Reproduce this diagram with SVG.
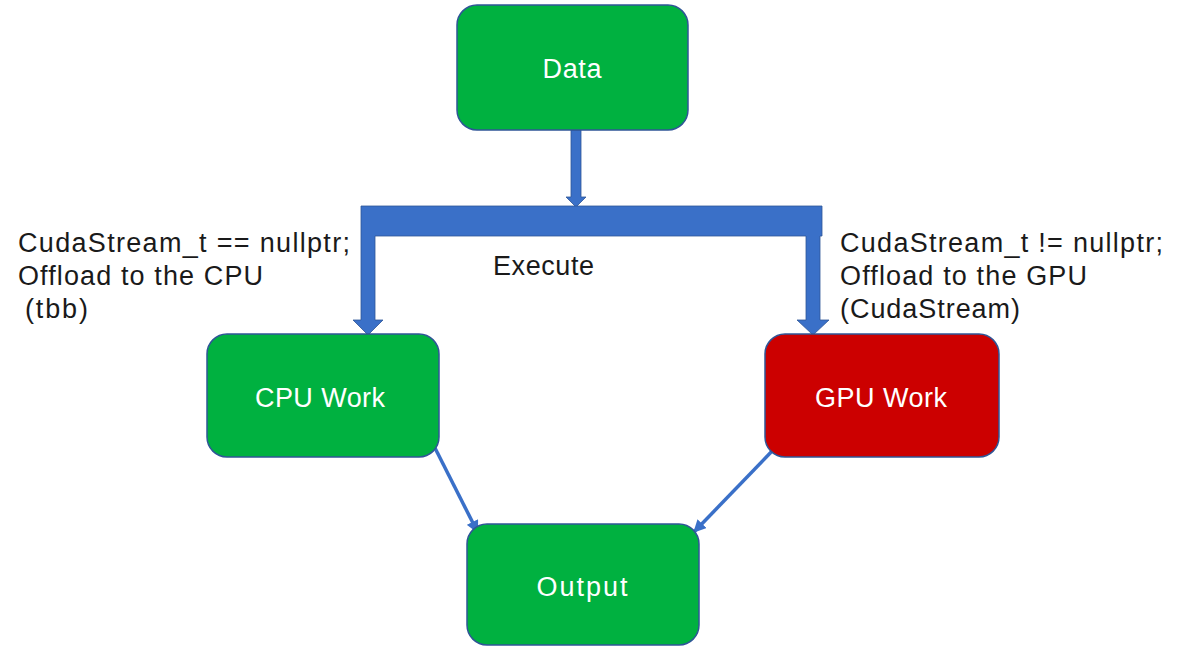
<svg xmlns="http://www.w3.org/2000/svg" width="1194" height="646" viewBox="0 0 1194 646">
<style>
.box{stroke:#2F5597;stroke-width:1.5}
.green{fill:#00B140}
.red{fill:#CC0000}
.nt{font-family:"Liberation Sans",Arial,sans-serif;font-size:27px;fill:#ffffff;text-anchor:middle}
.lt{font-family:"Liberation Sans",Arial,sans-serif;font-size:27px;fill:#1a1a1a}
.blue{fill:#3A70C8;stroke:#2F5597;stroke-width:0.8}
.thin{stroke:#3A70C8;stroke-width:3.5;fill:none;marker-end:url(#ah)}
</style>
<defs>
<marker id="ah" viewBox="0 0 10 10" refX="8" refY="5" markerWidth="3.6" markerHeight="3.6" orient="auto" markerUnits="strokeWidth">
<path d="M0,0 L10,5 L0,10 Z" fill="#3A70C8"/>
</marker>
</defs>
<rect width="1194" height="646" fill="#ffffff"/>
<g id="connectors">
<path class="blue" d="M571,130 L581,130 L581,197 L586,197 L576,207 L566,197 L571,197 Z"/>
<path class="blue" d="M361,206 L822,206 L822,236 L820,236 L820,320 L829,320 L813,335 L797,320 L806,320 L806,236 L375,236 L375,320 L383,320 L368,335 L353,320 L361,320 Z"/>
<line class="thin" x1="435" y1="448" x2="477" y2="531"/>
<line class="thin" x1="775" y1="448" x2="695" y2="531"/>
</g>
<g id="node-data">
<rect class="box green" x="457" y="5" width="231" height="125" rx="20"/>
<text class="nt" x="572" y="78" textLength="59">Data</text>
</g>
<g id="node-cpu">
<rect class="box green" x="207" y="334" width="232" height="123" rx="20"/>
<text class="nt" x="320" y="407" textLength="130">CPU Work</text>
</g>
<g id="node-gpu">
<rect class="box red" x="765" y="334" width="234" height="123" rx="20"/>
<text class="nt" x="881" y="407" textLength="132">GPU Work</text>
</g>
<g id="node-output">
<rect class="box green" x="467" y="524" width="232" height="121" rx="20"/>
<text class="nt" x="582" y="596" textLength="91">Output</text>
</g>
<g id="labels">
<text class="lt" x="493" y="275" textLength="101">Execute</text>
<text class="lt" x="18" y="252" textLength="332">CudaStream_t == nullptr;</text>
<text class="lt" x="18" y="285" textLength="245">Offload to the CPU</text>
<text class="lt" x="25" y="318" textLength="63">(tbb)</text>
<text class="lt" x="840" y="252" textLength="323">CudaStream_t != nullptr;</text>
<text class="lt" x="840" y="285" textLength="247">Offload to the GPU</text>
<text class="lt" x="840" y="318" textLength="180">(CudaStream)</text>
</g>
</svg>
